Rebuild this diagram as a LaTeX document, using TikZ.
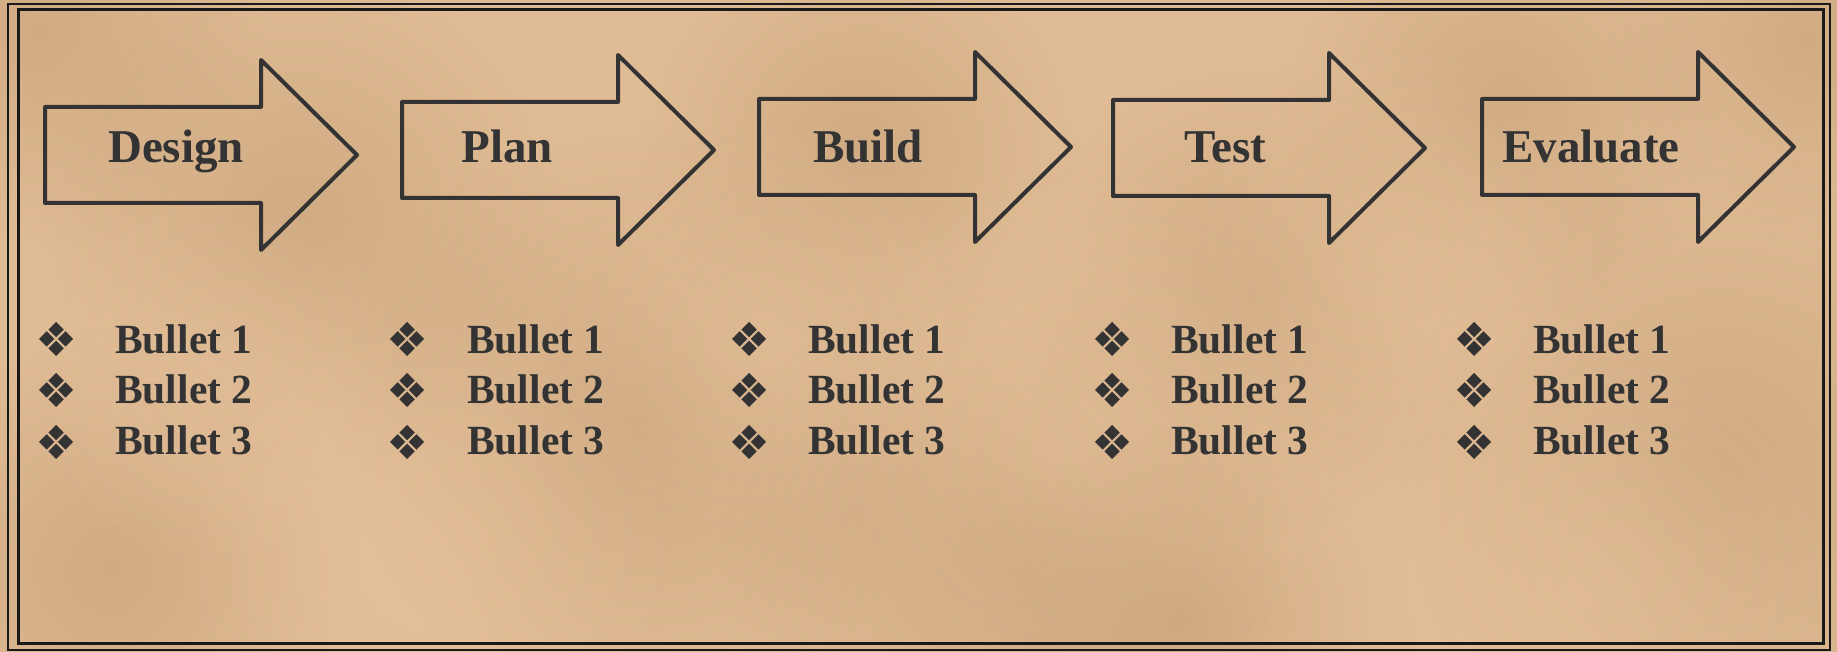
\documentclass[tikz,border=0pt]{standalone}
\usepackage{fontspec}
\usetikzlibrary{fadings}
\setmainfont{Liberation Serif}
\newfontfamily\symfont{DejaVu Sans}
\definecolor{ink}{RGB}{51,51,51}
\definecolor{frameink}{RGB}{25,25,25}
\definecolor{paper}{RGB}{224,188,150}
\definecolor{paperdark}{RGB}{170,130,85}
\definecolor{paperlight}{RGB}{240,205,168}
\tikzfading[name=softspot, inner color=transparent!70, outer color=transparent!100]
\begin{document}
\begin{tikzpicture}[x=1pt,y=-1pt,
  arrowline/.style={draw=ink,line width=4pt,line join=round},
  headtext/.style={text=ink,font=\fontsize{47}{56}\selectfont\bfseries,anchor=base,inner sep=0pt},
  bullettext/.style={text=ink,font=\fontsize{41.5}{50}\selectfont\bfseries,anchor=base west,inner sep=0pt},
  bulletsym/.style={text=ink,font=\symfont\fontsize{47}{56}\selectfont,anchor=center,inner sep=0pt},
  procarrow/.pic={\draw[arrowline] (0,0) -- (216,0) -- (216,-47) -- (312,48) -- (216,143) -- (216,96) -- (0,96) -- cycle;}
  ]
% background
\fill[paper] (0,0) rectangle (1837,652);
\useasboundingbox (0,0) rectangle (1837,652);
\foreach \px/\py/\pr in {40/30/220, 300/220/260, 640/420/300, 1000/540/280, 1250/300/240, 1720/470/320, 1500/110/220, 110/570/240, 860/150/220, 1810/40/200, 1180/620/200}{
  \fill[paperdark,path fading=softspot] (\px,\py) circle (\pr);
}
\foreach \px/\py/\pr in {430/560/260, 1100/420/280, 1600/580/240, 760/330/220, 220/380/200, 1400/250/220}{
  \fill[paperlight,path fading=softspot] (\px,\py) circle (\pr);
}
% frame
\draw[frameink,line width=2pt] (8,4) rectangle (1830,650);
\draw[frameink,line width=3pt] (18,10) rectangle (1823,643);
% arrows
\pic at (45,107) {procarrow};
\pic at (402,102) {procarrow};
\pic at (759,99) {procarrow};
\pic at (1113,100) {procarrow};
\pic at (1482,99) {procarrow};
\node[headtext] (design) at (176,163) {Design};
\node[headtext] (plan) at (507,163) {Plan};
\node[headtext] (build) at (868,163) {Build};
\node[headtext] (test) at (1225,163) {Test};
\node[headtext] (evaluate) at (1591,163) {Evaluate};
% bullets
\foreach \c/\dx/\tx in {1/57/115, 2/408/467, 3/750/808, 4/1113/1171, 5/1475/1533}{
  \foreach \r/\by/\dy in {1/353/339, 2/403/390, 3/454/442}{
    \node[bulletsym] (d\c\r) at (\dx,\dy) {❖};
    \node[bullettext] (b\c\r) at (\tx,\by) {Bullet \r};
  }
}
\end{tikzpicture}
\end{document}
